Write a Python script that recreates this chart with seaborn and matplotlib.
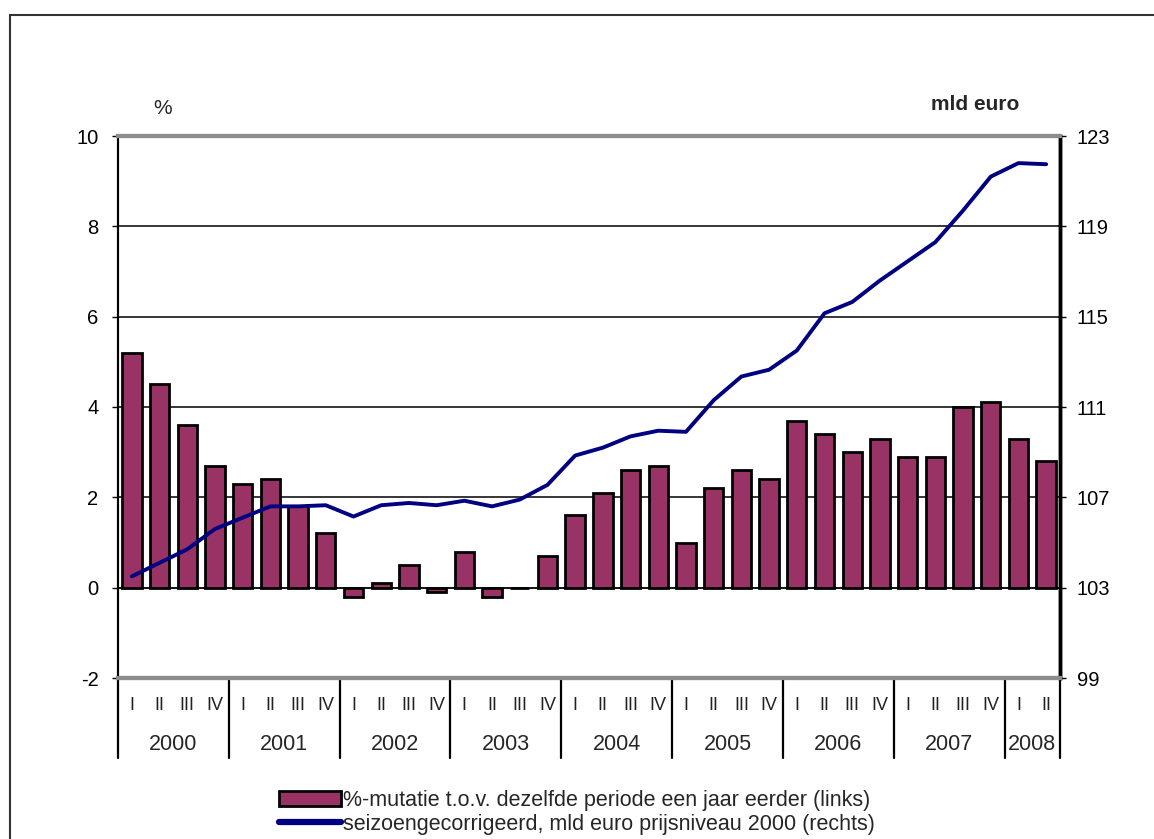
import matplotlib
matplotlib.use("Agg")
import matplotlib.pyplot as plt
import matplotlib.transforms as mtransforms
from matplotlib.patches import Rectangle, Patch
from matplotlib.lines import Line2D
import numpy as np
import pandas as pd
import seaborn as sns

# Data
years = ["2000", "2001", "2002", "2003", "2004", "2005", "2006", "2007", "2008"]
quarters_per_year = [4, 4, 4, 4, 4, 4, 4, 4, 2]
quarter_names = ["I", "II", "III", "IV"]

# %-mutatie t.o.v. dezelfde periode een jaar eerder (links)
mutatie = [5.2, 4.5, 3.6, 2.7,
           2.3, 2.4, 1.8, 1.2,
           -0.2, 0.1, 0.5, -0.1,
           0.8, -0.2, 0.0, 0.7,
           1.6, 2.1, 2.6, 2.7,
           1.0, 2.2, 2.6, 2.4,
           3.7, 3.4, 3.0, 3.3,
           2.9, 2.9, 4.0, 4.1,
           3.3, 2.8]

# seizoengecorrigeerd, mld euro prijsniveau 2000 (rechts)
niveau = [103.5, 104.1, 104.7, 105.6,
          106.1, 106.6, 106.6, 106.65,
          106.15, 106.65, 106.75, 106.65,
          106.85, 106.6, 106.9, 107.55,
          108.85, 109.2, 109.7, 109.95,
          109.9, 111.3, 112.35, 112.65,
          113.5, 115.15, 115.65, 116.6,
          117.45, 118.3, 119.7, 121.2,
          121.8, 121.75]

labels = []
for y, n in zip(years, quarters_per_year):
    for q in quarter_names[:n]:
        labels.append(f"{y}-{q}")

df = pd.DataFrame({"kwartaal": labels, "mutatie": mutatie,
                   "pos": np.arange(len(labels)), "niveau": niveau})

sns.set_theme(style="white")
plt.rcParams["font.family"] = ["Liberation Sans", "DejaVu Sans"]
plt.rcParams["axes.unicode_minus"] = False

BAR = "#993366"
LINE = "#000080"

fig = plt.figure(figsize=(11.54, 8.39), dpi=100)
ax = fig.add_axes([118 / 1154, 1 - 678 / 839, (1060 - 118) / 1154, (678 - 136) / 839])

# outer frame of the original chart
fig.patches.append(Rectangle((10 / 1154, -0.1), 1.2, 1 - 15 / 839 + 0.1,
                             transform=fig.transFigure, fill=False,
                             edgecolor="#333333", linewidth=1.5))

for yv in [2, 4, 6, 8]:
    ax.axhline(yv, color="black", linewidth=1.1, zorder=0)
ax.axhline(0, color="black", linewidth=1.3, zorder=0)

sns.barplot(data=df, x="kwartaal", y="mutatie", color=BAR, saturation=1,
            edgecolor="black", linewidth=2, width=0.7, ax=ax, zorder=2)

ax.set_xlim(-0.5, len(labels) - 0.5)
ax.set_ylim(-2, 10)
ax.set_yticks(np.arange(-2, 11, 2))
ax.set_xticks([])
ax.set_xlabel("")
ax.set_ylabel("")
ax.tick_params(axis="y", left=True, length=4, width=1, pad=10, labelsize=14.5, colors="black")

ax2 = ax.twinx()
sns.lineplot(data=df, x="pos", y="niveau", color=LINE, linewidth=2.8, ax=ax2)
ax2.set_ylim(99, 123)
ax2.set_yticks(np.arange(99, 124, 4))
ax2.set_xlim(-0.5, len(labels) - 0.5)
ax2.set_ylabel("")
ax2.set_xlabel("")
ax2.tick_params(axis="y", right=True, length=4, width=1, pad=8, labelsize=14.5, colors="black")

for a in (ax, ax2):
    a.spines["top"].set_color("#8c8c8c")
    a.spines["top"].set_linewidth(3)
    a.spines["bottom"].set_color("#8c8c8c")
    a.spines["bottom"].set_linewidth(3)
    a.spines["left"].set_color("black")
    a.spines["left"].set_linewidth(1.5)
    a.spines["right"].set_color("black")
    a.spines["right"].set_linewidth(2.5)

# multi-level category axis
trans = mtransforms.blended_transform_factory(ax.transData, ax.transAxes)
h = 542.0
start = 0
bounds = [-0.5]
for y, n in zip(years, quarters_per_year):
    for k in range(n):
        ax.text(start + k, -(705 - 678) / h, quarter_names[k], transform=trans,
                ha="center", va="center", fontsize=13, color="#222222")
    ax.text(start + (n - 1) / 2, -(744 - 678) / h, y, transform=trans,
            ha="center", va="center", fontsize=15.5)
    start += n
    bounds.append(start - 0.5)
for b in bounds:
    ax.plot([b, b], [0, -(758 - 678) / h], transform=trans, color="black",
            linewidth=1.6, clip_on=False)

fig.text(163 / 1154, 1 - 109 / 839, "%", ha="center", va="center", fontsize=15)
fig.text(975 / 1154, 1 - 105 / 839, "mld euro", ha="center", va="center",
         fontsize=15, fontweight="bold")

handles = [Patch(facecolor=BAR, edgecolor="black", linewidth=2),
           Line2D([0], [0], color=LINE, linewidth=4.5)]
names = ["%-mutatie t.o.v. dezelfde periode een jaar eerder (links)",
         "seizoengecorrigeerd, mld euro prijsniveau 2000 (rechts)"]
fig.legend(handles, names, loc="upper left", bbox_to_anchor=(268 / 1154, 1 - 779 / 839),
           frameon=False, fontsize=15.5, handlelength=2.9, handleheight=0.7,
           handletextpad=0.1, labelspacing=0.15, borderpad=0)

fig.savefig("out.png", dpi=100, facecolor="white")
